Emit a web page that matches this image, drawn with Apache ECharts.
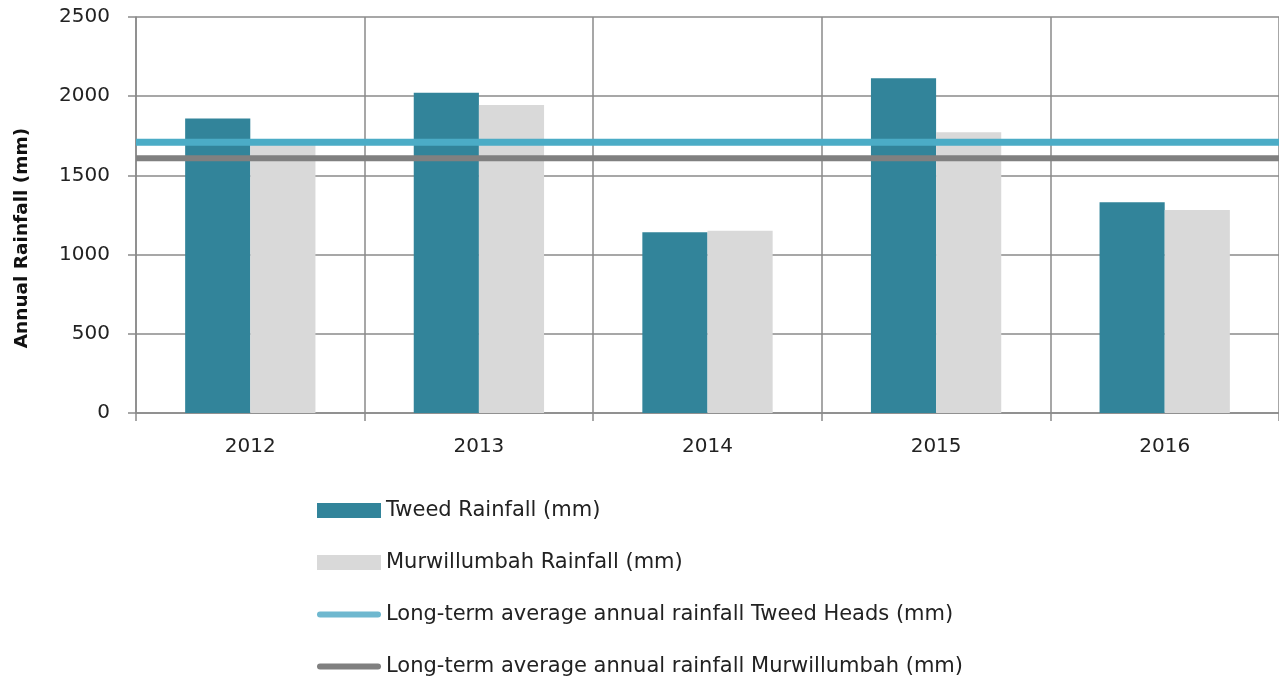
<!DOCTYPE html>
<html>
<head>
<meta charset="utf-8">
<script src="https://cdn.jsdelivr.net/npm/echarts@6/dist/echarts.min.js"></script>
<style>
  html, body { margin: 0; padding: 0; background: #fff; }
  #chart { width: 1279px; height: 683px; }
</style>
</head>
<body>
<div id="chart"></div>
<script>
// data
const years = ['2012', '2013', '2014', '2015', '2016'];
const tweedRain = [1860, 2022, 1141, 2113, 1330];
const murwRain = [1720, 1944, 1151, 1772, 1282];
const tweedAvg = [1710, 1710, 1710, 1710, 1710];
const murwAvg = [1608, 1608, 1608, 1608, 1608];
const yTicks = { min: 0, max: 2500, interval: 500 };

const FONT = 'DejaVu Sans';
const gridColor = '#8a8a8a';
// thin bar-shaped icon for the line series in the legend
const lineIcon = 'path://M3,0 H61 A3,3 0 0 1 61,6 H3 A3,3 0 0 1 3,0 Z';

const chart = echarts.init(document.getElementById('chart'));

chart.setOption({
  backgroundColor: '#ffffff',
  animation: false,
  textStyle: { fontFamily: FONT },
  grid: { left: 136, top: 17, right: 0, bottom: 270 },
  legend: {
    orient: 'vertical',
    left: 312,
    top: 495,
    height: 200,
    itemWidth: 64,
    itemHeight: 15,
    itemGap: 31,
    textStyle: { fontFamily: FONT, fontSize: 21, color: '#222' },
    data: [
      { name: 'Tweed Rainfall (mm)', icon: 'rect' },
      { name: 'Murwillumbah Rainfall (mm)', icon: 'rect' },
      { name: 'Long-term average annual rainfall Tweed Heads (mm)', icon: lineIcon },
      { name: 'Long-term average annual rainfall Murwillumbah (mm)', icon: lineIcon }
    ]
  },
  xAxis: [
    {
      type: 'category',
      data: years,
      axisLine: { lineStyle: { color: gridColor, width: 1.5 } },
      axisTick: { show: true, length: 8, lineStyle: { color: gridColor, width: 1.5 } },
      splitLine: { show: true, lineStyle: { color: gridColor, width: 1.5 } },
      axisLabel: { color: '#222', fontSize: 20, margin: 24, fontFamily: FONT }
    },
    {
      type: 'category',
      data: years,
      boundaryGap: false,
      show: false
    }
  ],
  yAxis: {
    type: 'value',
    min: yTicks.min,
    max: yTicks.max,
    interval: yTicks.interval,
    name: 'Annual Rainfall (mm)',
    nameLocation: 'middle',
    nameGap: 104,
    nameTextStyle: {
      fontFamily: FONT, fontSize: 18.5, fontWeight: 'bold', color: '#111',
      padding: [0, 46, 0, 0] // nudges the title down, as in the source
    },
    axisLine: { show: true, lineStyle: { color: gridColor, width: 1.5 } },
    axisTick: { show: true, length: 8, lineStyle: { color: gridColor, width: 1.5 } },
    splitLine: { show: true, lineStyle: { color: gridColor, width: 1.5 } },
    axisLabel: { color: '#222', fontSize: 20, margin: 26, fontFamily: FONT, formatter: v => String(v) }
  },
  series: [
    {
      name: 'Tweed Rainfall (mm)',
      type: 'bar',
      data: tweedRain,
      barGap: '0%',
      barCategoryGap: '43%',
      itemStyle: { color: '#32849a' }
    },
    {
      name: 'Murwillumbah Rainfall (mm)',
      type: 'bar',
      data: murwRain,
      itemStyle: { color: '#d9d9d9' }
    },
    {
      name: 'Long-term average annual rainfall Tweed Heads (mm)',
      type: 'line',
      xAxisIndex: 1,
      data: tweedAvg,
      symbol: 'none',
      lineStyle: { color: '#4bacc6', width: 7 },
      itemStyle: { color: '#6fb8cf' }
    },
    {
      name: 'Long-term average annual rainfall Murwillumbah (mm)',
      type: 'line',
      xAxisIndex: 1,
      data: murwAvg,
      symbol: 'none',
      lineStyle: { color: '#808080', width: 6 },
      itemStyle: { color: '#808080' }
    }
  ]
});
</script>
</body>
</html>
